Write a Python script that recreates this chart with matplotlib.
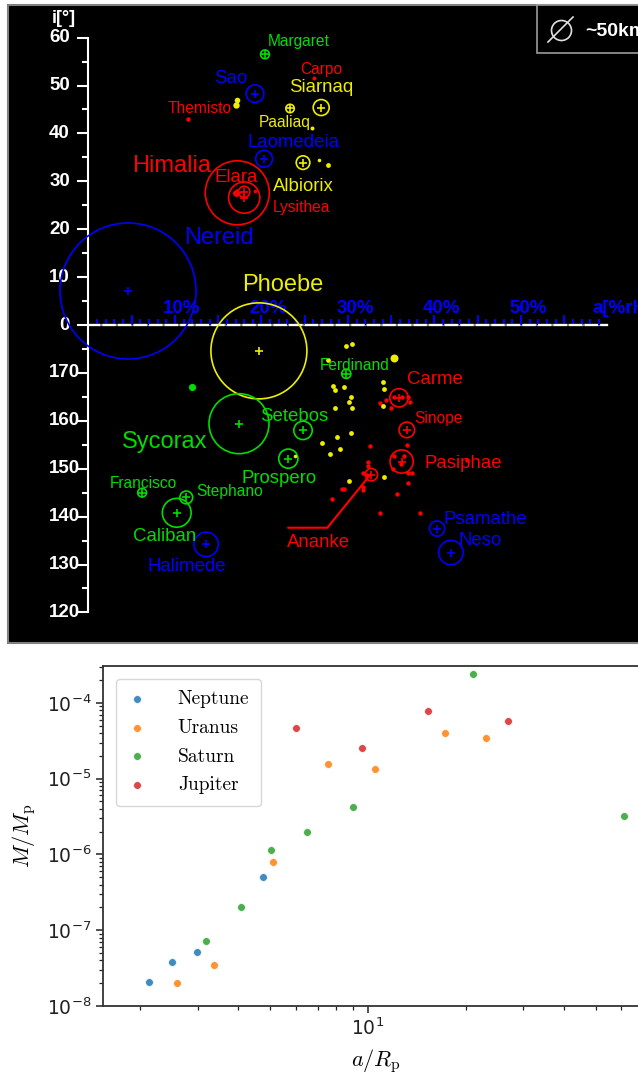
import matplotlib
matplotlib.use("Agg")
import matplotlib.pyplot as plt
from matplotlib.patches import Rectangle
from matplotlib.lines import Line2D

plt.rcParams['mathtext.fontset'] = 'cm'
plt.rcParams['axes.unicode_minus'] = False

W, H, DPI = 638, 1075, 100

# ------------------------------------------------------------------ data: top panel
PLANET_COLORS = {'Jupiter': '#ff0000', 'Saturn': '#eeee00',
                 'Uranus': '#00dd00', 'Neptune': '#0000ff'}

# larger irregular moons (drawn as circles, size ~ diameter)
moon_names = ['Margaret', 'Sao', 'Siarnaq', 'Paaliaq', 'Laomedeia', 'Albiorix',
              'Himalia', 'Elara', 'Lysithea', 'Nereid', 'Phoebe', 'Sycorax',
              'Setebos', 'Prospero', 'Francisco', 'Stephano', 'Caliban', 'Halimede',
              'Ferdinand', 'Carme', 'Sinope', 'Pasiphae', 'Ananke', 'Psamathe', 'Neso']
moon_planet = ['Uranus', 'Neptune', 'Saturn', 'Saturn', 'Neptune', 'Saturn',
               'Jupiter', 'Jupiter', 'Jupiter', 'Neptune', 'Saturn', 'Uranus',
               'Uranus', 'Uranus', 'Uranus', 'Uranus', 'Uranus', 'Neptune',
               'Uranus', 'Jupiter', 'Jupiter', 'Jupiter', 'Jupiter', 'Neptune', 'Neptune']
moon_a = [20.4, 19.25, 26.9, 23.3, 20.3, 24.8,
          17.2, 18.0, 18.0, 4.57, 19.7, 17.4,
          24.8, 23.1, 6.2, 11.3, 10.2, 13.6,
          29.8, 35.9, 36.8, 36.2, 32.7, 40.3, 41.9]       # % of Hill radius
moon_inc = [56.5, 48.3, 45.4, 45.2, 34.7, 33.9,
            27.6, 26.6, 27.8, 7.1, 174.6, 159.4,
            158.0, 152.1, 145.0, 144.0, 140.8, 134.2,
            169.8, 164.8, 158.1, 151.5, 148.75, 137.5, 132.5]  # deg
moon_diam = [22, 44, 40, 21, 42, 34,
             160, 78, 28, 340, 240, 150,
             46, 48, 22, 32, 72, 61,
             23, 46, 39, 58, 31, 38, 61]                   # km

# small moons (filled dots)
dot_names = ['Themisto', 'Carpo'] + [''] * 60
dot_planet = (['Jupiter'] * 2 + ['Jupiter'] * 2 + ['Jupiter'] * 7 + ['Jupiter'] * 22
              + ['Saturn'] * 6 + ['Saturn'] * 21 + ['Uranus'])
dot_a = ([11.5, 26.1] + [17.05, 19.25]
         + [33.7, 34.39, 34.97, 35.32, 36.24, 36.94, 37.17]
         + [32.54, 36.82, 35.32, 36.47, 36.13, 35.2, 36.94, 37.4, 32.31, 32.31, 31.73,
            32.2, 36.94, 31.73, 31.73, 29.3, 29.54, 28.15, 35.66, 33.7, 38.3, 43.75]
         + [17.0, 17.15, 25.8, 26.6, 27.7, 23.9]
         + [29.77, 30.46, 27.69, 35.32, 28.27, 28.5, 29.54, 30.35, 30.12, 28.5, 30.46,
            34.05, 34.16, 34.05, 28.73, 30.35, 27.0, 29.08, 27.92, 30.12, 34.16]
         + [11.97])
dot_inc = ([43.1, 51.5] + [27.6, 28.0]
           + [163.75, 164.4, 162.7, 165.0, 165.0, 165.0, 164.0]
           + [154.8, 155.0, 152.7, 152.7, 151.0, 150.0, 149.2, 149.2, 151.5, 150.6, 149.0,
              148.75, 147.1, 146.25, 145.6, 145.8, 145.8, 143.75, 144.8, 140.8, 140.8, 151.9]
           + [46.0, 46.9, 41.2, 34.5, 33.3, 152.7]
           + [175.6, 176.0, 172.7, 173.1, 167.3, 166.5, 167.1, 165.0, 164.0, 162.7, 162.7,
              168.1, 166.7, 163.1, 156.7, 157.5, 155.4, 154.2, 153.1, 147.5, 148.3]
           + [167.1])
dot_diam = ([11, 10] + [17, 9] + [11] * 7 + [11] * 22
            + [16, 14, 10, 9, 12, 9]
            + [12, 12, 12, 20, 12, 12, 12, 12, 12, 12, 12, 12, 12, 12, 12, 12, 12, 12, 12, 12, 12]
            + [18])

legend_diam_km = 50
x_ticks_pct = [10, 20, 30, 40, 50]

# ------------------------------------------------------------------ data: bottom panel
nep_x = [2.13, 2.50, 2.99, 4.76]
nep_y = [2.1e-8, 3.8e-8, 5.1e-8, 5.1e-7]
ura_x = [2.59, 3.37, 5.11, 7.54, 10.5, 17.2, 23.0]
ura_y = [2.0e-8, 3.45e-8, 7.85e-7, 1.58e-5, 1.35e-5, 4.0e-5, 3.45e-5]
sat_x = [3.18, 4.07, 5.04, 6.5, 9.0, 21.0, 61.1]
sat_y = [7.2e-8, 2.0e-7, 1.13e-6, 1.95e-6, 4.17e-6, 2.41e-4, 3.26e-6]
jup_x = [6.01, 9.58, 15.3, 26.9]
jup_y = [4.7e-5, 2.56e-5, 7.85e-5, 5.8e-5]

# ------------------------------------------------------------------ layout helpers
X0, XS = 88.5, 8.65     # pixel of 0 %, pixels per %
Y0, YS = 325.0, 4.79    # pixel of 0 deg, pixels per deg
KM2PX = 0.4             # circle diameter pixels per km
PT = 72.0 / DPI


def fx(px):
    return px / W


def fy(py):
    return 1 - py / H


def yplot(i):
    return i if i < 90 else -(180 - i)


fig = plt.figure(figsize=(W / DPI, H / DPI), dpi=DPI)
fig.patch.set_facecolor('white')

# black panel
TL, TT, TR, TB = 8, 5, 660, 643
fig.patches.append(Rectangle((fx(TL), fy(TB)), fx(TR) - fx(TL), fy(TT) - fy(TB),
                             transform=fig.transFigure, facecolor='black',
                             edgecolor='#808080', lw=1.5, zorder=-5))

AR = 645
ax = fig.add_axes([fx(TL), fy(TB), fx(AR) - fx(TL), fy(TT) - fy(TB)])
ax.set_zorder(1)
ax.set_facecolor('none')
ax.set_xlim((TL - X0) / XS, (AR - X0) / XS)
ax.set_ylim(-(TB - Y0) / YS, (Y0 - TT) / YS)

SANS = 'Liberation Sans'

# axes
for s in ['right', 'bottom']:
    ax.spines[s].set_visible(False)
ax.spines['left'].set_position(('data', 0))
ax.spines['left'].set_bounds(-60, 60)
ax.spines['left'].set_color('white')
ax.spines['left'].set_linewidth(1.5)
ax.set_yticks(list(range(-60, 61, 10)))
ax.set_yticks([v for v in range(-55, 60, 5) if v % 10], minor=True)
ax.tick_params(axis='y', which='major', length=8, width=1.5, color='white',
               labelleft=False, direction='out')
ax.tick_params(axis='y', which='minor', length=4, width=1.5, color='white', direction='out')

ax.plot([0, 60], [0, 0], color='#8a8a8a', lw=1.6, zorder=1)
ax.spines['top'].set_position(('data', 0))
ax.spines['top'].set_bounds(0, 60)
ax.spines['top'].set_color('white')
ax.spines['top'].set_linewidth(1.6)
ax.spines['top'].set_linestyle((0, (5, 2)))
ax.xaxis.set_ticks_position('top')
ax.set_xticks(list(range(5, 60, 5)))
ax.set_xticks([v for v in range(1, 60) if v % 5], minor=True)
ax.tick_params(axis='x', which='major', length=7, width=1.5, color='#0000ff',
               labeltop=False, labelbottom=False, direction='out')
ax.tick_params(axis='x', which='minor', length=4, width=1.5, color='#0000ff', direction='out')

# y tick labels (prograde above, retrograde below)
for v in range(-60, 61, 10):
    lab = str(v) if v >= 0 else str(180 + v)
    rx = 70 if v >= 0 else 80
    ax.text((rx - X0) / XS, v, lab, color='white', fontsize=13.5, fontweight='bold',
            family=SANS, ha='right', va='center')
ax.text((64 - X0) / XS, (Y0 - 18) / YS, 'i[°]', color='white', fontsize=13,
        fontweight='bold', family=SANS, ha='center', va='center')
for v in x_ticks_pct:
    ax.annotate(f'{v}%', xy=(v, 0), xytext=(7, 17), textcoords='offset pixels',
                color='#0000ff', fontsize=13.5, fontweight='bold', family=SANS,
                ha='center', va='center')
ax.text((593 - X0) / XS, (Y0 - 308) / YS, 'a[%rH]', color='#0000ff', fontsize=13.5,
        fontweight='bold', family=SANS, ha='left', va='center')

# moons
for n, p, a, i, d in zip(moon_names, moon_planet, moon_a, moon_inc, moon_diam):
    c = PLANET_COLORS[p]
    ax.scatter([a], [yplot(i)], s=(d * KM2PX * PT) ** 2, facecolors='none',
               edgecolors=c, linewidths=1.2, zorder=3)
    ax.scatter([a], [yplot(i)], s=34, marker='+', color=c, linewidths=1.2, zorder=3)
for n, p, a, i, d in zip(dot_names, dot_planet, dot_a, dot_inc, dot_diam):
    ax.scatter([a], [yplot(i)], s=(d * KM2PX * PT) ** 2, color=PLANET_COLORS[p],
               linewidths=0, zorder=3)

# labels: (dx, dy) pixel offset of text anchor from the moon, size class, alignment
BIG, MED, SMALL = 17, 13.4, 11.2
label_layout = {
    'Margaret': (3, -13, SMALL, 'left'), 'Sao': (-8, -15, MED, 'right'),
    'Themisto': (44, -10, SMALL, 'right'), 'Carpo': (-14, -9, SMALL, 'left'),
    'Siarnaq': (-32, -20, MED, 'left'), 'Paaliaq': (-31, 14, SMALL, 'left'),
    'Laomedeia': (-17, -16, MED, 'left'), 'Albiorix': (-30, 24, MED, 'left'),
    'Himalia': (-26, -27, BIG, 'right'), 'Elara': (-30, -20, MED, 'left'),
    'Lysithea': (29, 16, SMALL, 'left'), 'Nereid': (56, -53, BIG, 'left'),
    'Phoebe': (-17, -66, BIG, 'left'), 'Sycorax': (-117, 18, BIG, 'left'),
    'Setebos': (-43, -14, MED, 'left'), 'Prospero': (-47, 20, MED, 'left'),
    'Francisco': (-32, -9, SMALL, 'left'), 'Stephano': (10, -6, SMALL, 'left'),
    'Caliban': (-44, 24, MED, 'left'), 'Halimede': (-59, 22, MED, 'left'),
    'Ferdinand': (-27, -8, SMALL, 'left'), 'Carme': (8, -18, MED, 'left'),
    'Sinope': (7, -11, SMALL, 'left'), 'Pasiphae': (23, 2, MED, 'left'),
    'Ananke': (-84, 68, MED, 'left'), 'Psamathe': (6, -9, MED, 'left'),
    'Neso': (8, -12, MED, 'left'),
}
all_named = list(zip(moon_names, moon_planet, moon_a, moon_inc)) + \
    [(n, p, a, i) for n, p, a, i in zip(dot_names, dot_planet, dot_a, dot_inc) if n]
for n, p, a, i in all_named:
    dx, dy, fs, ha = label_layout[n]
    ax.annotate(n, xy=(a, yplot(i)), xytext=(dx, -dy), textcoords='offset pixels',
                color=PLANET_COLORS[p], fontsize=fs, family=SANS, ha=ha, va='center',
                zorder=4)
    if n == 'Ananke':
        lx = [a + q / XS for q in (-83, -44, -1)]
        ly = [yplot(i) - q / YS for q in (53, 53, 0)]
        ax.plot(lx, ly, color='#ff0000', lw=1.5, zorder=4)

# size legend box
fig.patches.append(Rectangle((fx(537), fy(53)), fx(700) - fx(537), fy(5) - fy(53),
                             transform=fig.transFigure, facecolor='black',
                             edgecolor='#9a9a9a', lw=1.2, zorder=5))
dpt = legend_diam_km * KM2PX * PT
fig.lines.append(Line2D([fx(560.5)], [fy(29.5)], transform=fig.transFigure, marker='o',
                        markersize=dpt, markerfacecolor='none', markeredgecolor='#e0e0e0',
                        markeredgewidth=1.2, linestyle='none', zorder=6))
fig.lines.append(Line2D([fx(548), fx(573)], [fy(42), fy(17)], transform=fig.transFigure,
                        color='#e0e0e0', lw=1.2, zorder=6))
fig.text(fx(585), fy(31), f'~{legend_diam_km}km', color='white', fontsize=14,
         fontweight='bold', family=SANS, ha='left', va='center', zorder=6)

# ------------------------------------------------------------------ bottom panel
BL, BT, BR, BB = 103, 666, 649, 1006
ax2 = fig.add_axes([fx(BL), fy(BB), fx(BR) - fx(BL), fy(BT) - fy(BB)])
ax2.set_xscale('log')
ax2.set_yscale('log')
kw = dict(s=32, edgecolors='white', linewidths=0.6, alpha=0.85, zorder=3)
ax2.scatter(nep_x, nep_y, color='#1f77b4', label='Neptune', **kw)
ax2.scatter(ura_x, ura_y, color='#ff7f0e', label='Uranus', **kw)
ax2.scatter(sat_x, sat_y, color='#2ca02c', label='Saturn', **kw)
ax2.scatter(jup_x, jup_y, color='#d62728', label='Jupiter', **kw)
ax2.set_xlim(10 ** 0.186, 10 ** 1.863)
ax2.set_ylim(1e-8, 10 ** -3.513)
for s in ax2.spines.values():
    s.set_color('#333333')
    s.set_linewidth(1.3)
ax2.tick_params(which='major', length=5, width=1.1, labelsize=13.5, colors='#222222')
ax2.tick_params(which='minor', length=3, width=0.9, colors='#222222')
ax2.set_xlabel(r'$a/R_\mathrm{p}$', fontsize=16)
ax2.set_ylabel(r'$M/M_\mathrm{p}$', fontsize=16)
ax2.xaxis.set_label_coords(0.5, (BB - 1047) / (BB - BT))
ax2.yaxis.set_label_coords((38 - BL) / (BR - BL), 0.5)
leg = ax2.legend(loc='upper left', prop={'family': 'cmr10', 'size': 14},
                 handlelength=1.0, handletextpad=1.6, labelspacing=0.55,
                 borderpad=0.6, borderaxespad=0.65, framealpha=0.8)

fig.savefig('out.png', dpi=DPI, facecolor='white')
